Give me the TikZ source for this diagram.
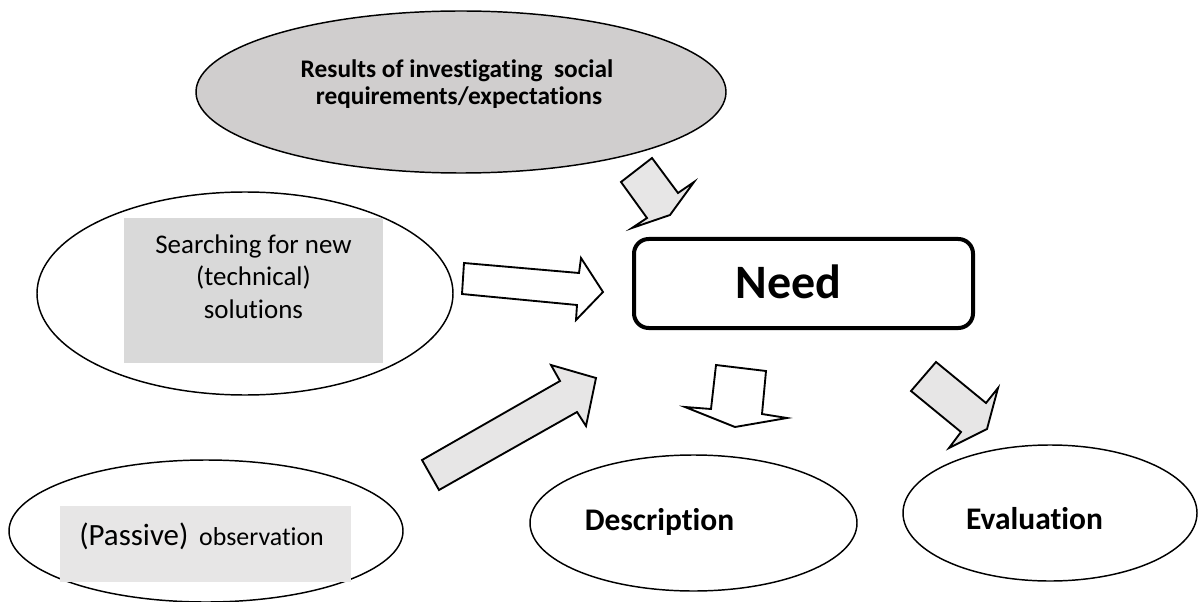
\documentclass[tikz,border=0pt]{standalone}
\usepackage{fontspec}
\setmainfont{Carlito}[Ligatures=NoCommon]
\usetikzlibrary{shapes.geometric}
\definecolor{ellgray}{RGB}{208,206,206}
\definecolor{boxgray}{RGB}{217,217,217}
\definecolor{paleGray}{RGB}{231,230,230}
\begin{document}
\begin{tikzpicture}[x=0.75pt,y=-0.75pt,
  oval/.style={draw=black, ellipse, line width=1.1pt, inner sep=0pt},
  shade box/.style={draw=none, inner sep=0pt},
  needbox/.style={draw=black, line width=3pt, rounded corners=11pt, inner sep=0pt, fill=white},
  blockarrow/.style={draw=black, line width=1.4pt, line join=miter},
  txt/.style={inner sep=0pt, anchor=base},
  topfont/.style={font=\bfseries\fontsize{19pt}{22pt}\selectfont},
  leftfont/.style={font=\fontsize{20.2pt}{24pt}\selectfont},
  bigbold/.style={font=\bfseries\fontsize{23.6pt}{28pt}\selectfont}
]
\useasboundingbox (0,0) rectangle (1198,602);

% ellipses and boxes
\node[oval, fill=ellgray, minimum width=397.5pt, minimum height=121.5pt] (res) at (461,92) {};
\node[oval, fill=white, minimum width=312pt, minimum height=152.25pt] (search) at (245,293.5) {};
\node[shade box, fill=boxgray, minimum width=194.25pt, minimum height=108.75pt] (searchbox) at (253.5,290.5) {};
\node[oval, fill=white, minimum width=295.5pt, minimum height=106.5pt] (passive) at (206,531) {};
\node[shade box, fill=paleGray, minimum width=218.25pt, minimum height=57pt] (passivebox) at (205.5,544) {};
\node[oval, fill=white, minimum width=245.25pt, minimum height=102pt] (desc) at (693.5,523) {};
\node[oval, fill=white, minimum width=220.5pt, minimum height=102pt] (eval) at (1050,513) {};
\node[needbox, minimum width=254.25pt, minimum height=66.75pt] (need) at (803.5,283.5) {};

% texts
\node[txt, topfont] (res1) at (457,78) {Results of investigating\ \ social};
\node[txt, topfont] (res2) at (459,105) {requirements/expectations};
\node[txt, leftfont] (s1) at (253.5,253) {Searching for new};
\node[txt, leftfont] (s2) at (253.5,285.5) {(technical)};
\node[txt, leftfont] (s3) at (253.5,318) {solutions};
\node[inner sep=0pt, anchor=base west] (ptxt) at (79,545) {{\fontsize{23.2pt}{27pt}\selectfont (Passive)}\hspace{8pt}{\fontsize{19.4pt}{23pt}\selectfont observation}};
\node[txt, font=\bfseries\fontsize{36pt}{43pt}\selectfont] (needtxt) at (788.5,298) {Need};
\node[txt, bigbold] (desctxt) at (659.5,530) {Description};
\node[txt, bigbold] (evaltxt) at (1034.5,529) {Evaluation};

% block arrows
\draw[blockarrow, fill=paleGray] (621,182) -- (652,158) -- (678,193) -- (694,182) -- (670,215) -- (632,228) -- (647,218) -- cycle;
\draw[blockarrow, fill=white] (464,263) -- (579,273) -- (581,258) -- (603,292) -- (576,320) -- (577,305) -- (462,294) -- cycle;
\draw[blockarrow, fill=paleGray] (422,460) -- (560,381) -- (551,365) -- (596,378) -- (586,426) -- (577,412) -- (439,490) -- cycle;
\draw[blockarrow, fill=white] (716,365) -- (766,371) -- (762,414) -- (787,418) -- (735,427) -- (685,407) -- (711,409) -- cycle;
\draw[blockarrow, fill=paleGray] (936,362) -- (986,403) -- (998,388) -- (987,429) -- (949,448) -- (961,432) -- (911,391) -- cycle;
\end{tikzpicture}
\end{document}
